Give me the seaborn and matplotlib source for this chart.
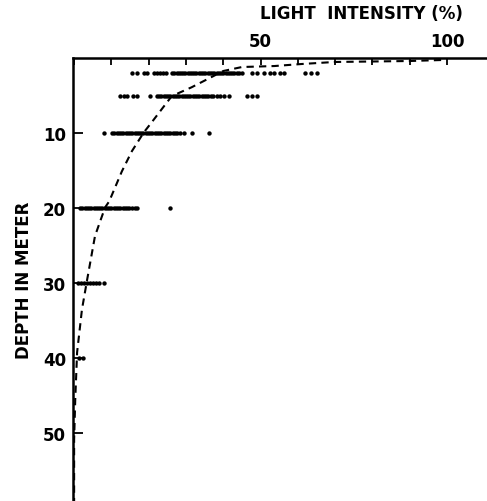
import pandas as pd
import matplotlib
matplotlib.use("Agg")
import matplotlib.pyplot as plt
import seaborn as sns

# light intensity (%) readings at each sampling depth (m)
light_2m = [15.5, 16.8, 18.7, 19.5, 21.4, 22.2, 23.0, 23.8, 24.6,
            26.2, 26.8, 27.5, 28.0, 28.6, 29.2, 29.8, 30.4, 31.0, 31.6, 32.2,
            32.8, 33.4, 34.0, 34.6, 35.2, 35.8, 36.4, 37.0, 37.6, 38.2, 38.8,
            39.4, 40.0, 40.6, 41.2, 41.8, 42.4, 43.0, 43.6, 44.2, 44.9,
            47.6, 48.9, 50.8, 52.4, 53.5, 55.3, 56.4, 61.8, 63.4, 65.0]
light_5m = [12.3, 13.4, 14.2, 15.8, 16.8, 20.3,
            22.2, 22.8, 23.4, 24.0, 24.6, 25.2, 25.8, 26.4, 27.0, 27.6, 28.2,
            28.8, 29.4, 30.0, 30.6, 31.2, 31.8, 32.4, 33.0, 33.6, 34.2, 34.8,
            35.4, 36.0, 36.6, 37.2, 38.2, 39.0, 40.1, 41.4, 46.3, 47.6, 48.9]
light_10m = [8.0, 10.2, 10.8, 11.4, 12.0, 12.6, 13.2, 13.8, 14.4, 15.0,
             15.6, 16.2, 16.8, 17.4, 18.0, 18.6, 19.2, 19.8, 20.4, 21.0,
             21.6, 22.2, 22.8, 23.4, 24.0, 24.6, 25.2, 25.8, 26.4, 27.0,
             27.6, 28.4, 29.4, 31.5, 36.1]
light_20m = [1.6, 2.2, 2.8, 3.4, 4.0, 4.6, 5.2, 5.8, 6.4, 7.0, 7.6, 8.2,
             8.8, 9.4, 10.0, 10.6, 11.2, 11.8, 12.4, 13.0, 13.6, 14.2,
             14.8, 15.5, 16.2, 16.8, 25.7]
light_30m = [1.0, 1.8, 2.6, 3.4, 4.2, 5.0, 5.8, 6.7, 8.0]
light_40m = [1.2, 2.4]

# hand-fitted attenuation curve
curve_depth = [0.27, 0.4, 0.53, 0.8, 1.07, 1.2, 1.73, 3.9, 5.07, 5.9, 8.5,
               9.9, 12.4, 15.1, 19.1, 19.9, 23.7, 29.5, 33.5, 39.2, 45.5, 50.8, 59]
curve_light = [98.4, 90, 69.8, 61, 53.7, 45, 40, 31.5, 26.2, 24.9, 20.9,
               18.7, 15.5, 12.8, 9.4, 8.3, 5.6, 3.5, 2.1, 0.8, 0.3, 0.0, 0.0]

rows = [(2, light_2m), (5, light_5m), (10, light_10m),
        (20, light_20m), (30, light_30m), (40, light_40m)]
obs = pd.DataFrame([(d, v) for d, vals in rows for v in vals],
                   columns=["depth", "light"])
curve = pd.DataFrame({"depth": curve_depth, "light": curve_light})

sns.set_style("ticks")
plt.rcParams["font.family"] = ["DejaVu Sans"]
plt.rcParams["text.color"] = "black"

fig = plt.figure(figsize=(4.87, 5.02), dpi=100)
ax = fig.add_axes([73 / 487, 0.0, 414 / 487, 443 / 502])

sns.scatterplot(data=obs, x="light", y="depth", color="black", s=10,
                linewidth=0, ax=ax)
sns.lineplot(data=curve, x="light", y="depth", sort=False, color="black",
             linewidth=1.5, ax=ax, estimator=None)
ax.lines[-1].set_dashes([3.5, 2.5])

ax.set_xlim(-0.3, 110.7)
ax.set_ylim(59, 0)

ax.xaxis.set_label_position("top")
ax.set_xticks(range(0, 101, 10))
ax.set_xticklabels(["" if t not in (50, 100) else str(t) for t in range(0, 101, 10)])
ax.set_yticks([10, 20, 30, 40, 50])
ax.tick_params(axis="x", top=True, bottom=False, labeltop=True, labelbottom=False,
               direction="in", length=5, width=1.3, pad=6, labelsize=12,
               colors="black")
ax.tick_params(axis="y", left=True, right=False, direction="in", length=7,
               width=1.3, pad=5, labelsize=12, colors="black")
for lab in ax.get_xticklabels() + ax.get_yticklabels():
    lab.set_fontweight("bold")

ax.set_xlabel("LIGHT  INTENSITY (%)", fontsize=12, fontweight="bold", color="black")
ax.set_ylabel("DEPTH IN METER", fontsize=12, fontweight="bold", color="black")
ax.xaxis.set_label_coords(0.696, 1.09)
ax.yaxis.set_label_coords(-0.097, 0.5)

ax.spines["right"].set_visible(False)
ax.spines["bottom"].set_visible(False)
for side in ("top", "left"):
    ax.spines[side].set_linewidth(1.8)
    ax.spines[side].set_color("black")

fig.savefig("out.png", dpi=100)
